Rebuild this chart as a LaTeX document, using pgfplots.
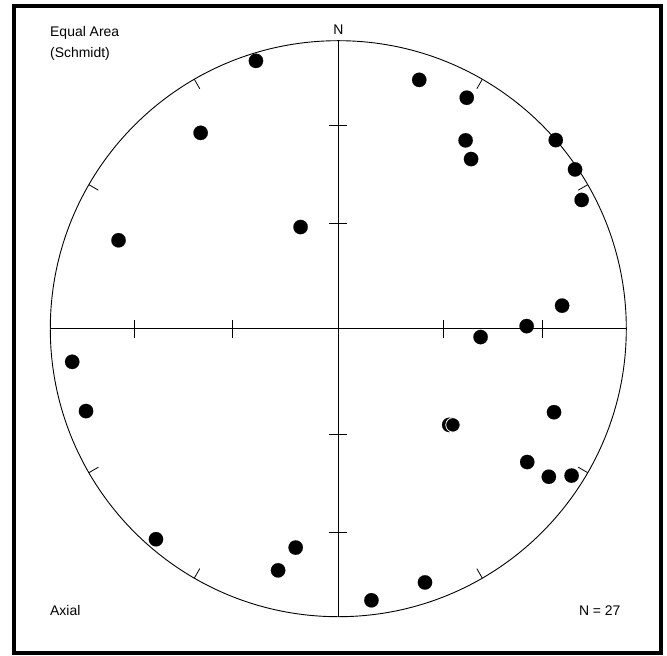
\documentclass[border=0pt]{standalone}
\usepackage{fontspec}
\setmainfont{Liberation Sans}
\usepackage{pgfplots}
\pgfplotsset{compat=1.18}
\begin{document}
\begin{tikzpicture}[x=1bp,y=1bp]
\begin{axis}[at={(0,0)}, anchor=origin, scale only axis, width=576bp, height=576bp,
  xmin=-1, xmax=1, ymin=-1, ymax=1, hide axis, clip=false]
\draw[line width=0.9bp] (axis cs:0,0) circle [radius=288bp];
\draw[line width=0.8bp] (axis cs:-1,0) -- (axis cs:1,0);
\draw[line width=0.8bp] (axis cs:0,-1) -- (axis cs:0,1);
\pgfplotsinvokeforeach{-0.7071,-0.366,0.366,0.7071}{
  \draw[line width=0.8bp] (axis cs:#1,-0.031) -- (axis cs:#1,0.031);
  \draw[line width=0.8bp] (axis cs:-0.031,#1) -- (axis cs:0.031,#1);
}
\pgfplotsinvokeforeach{0,30,...,330}{
  \draw[line width=0.8bp] (axis cs:{sin(#1)},{cos(#1)}) -- (axis cs:{0.962*sin(#1)},{0.962*cos(#1)});
}
\addplot[only marks, mark=*, mark size=7.2bp, mark options={fill=black, draw=black, line width=0.1bp}] coordinates {
(-0.286,0.930) (0.281,0.864) (0.446,0.802) (-0.478,0.680) (0.442,0.654)
(0.755,0.655) (0.461,0.589) (0.822,0.553) (0.845,0.447) (-0.131,0.353)
(-0.763,0.307) (0.777,0.080) (0.654,0.009) (0.494,-0.029) (-0.924,-0.115)
(-0.876,-0.286) (0.749,-0.290) (0.385,-0.334) (0.656,-0.463) (0.731,-0.514)
(0.810,-0.510) (-0.633,-0.731) (-0.148,-0.760) (-0.209,-0.839) (0.301,-0.881)
(0.115,-0.943)
};
\addplot[only marks, mark=*, mark size=7.2bp, mark options={fill=black, draw=white, line width=0.8bp}] coordinates {
(0.398,-0.334)
};
\end{axis}
\draw[line width=4bp] (-324.3,-324.3) rectangle (322.7,322.7);
\fontsize{14}{16}\selectfont
\node[anchor=base west, inner sep=0] at (-288.3,292) {Equal Area};
\node[anchor=base west, inner sep=0] at (-288.3,271.4) {(Schmidt)};
\node[anchor=base, inner sep=0] at (0,294.4) {N};
\node[anchor=base west, inner sep=0] at (-288.3,-286.3) {Axial};
\node[anchor=base east, inner sep=0] at (282.4,-286.3) {N = 27};
\pgfresetboundingbox
\path[use as bounding box] (-338.3,-327.3) rectangle (328.7,328.7);
\end{tikzpicture}
\end{document}
